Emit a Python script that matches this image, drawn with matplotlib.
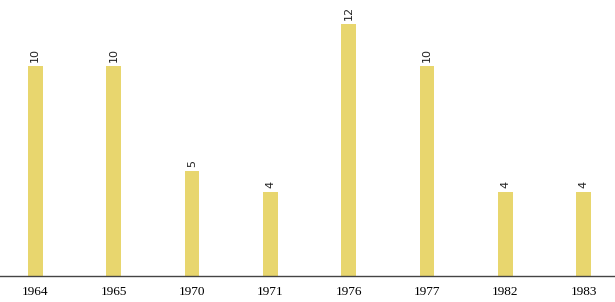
import matplotlib
matplotlib.use("Agg")
import matplotlib.pyplot as plt

categories = ["1964", "1965", "1970", "1971", "1976", "1977", "1982", "1983"]
values = [10, 10, 5, 4, 12, 10, 4, 4]

fig = plt.figure(figsize=(6.15, 3.02), dpi=100)
ax = fig.add_axes([0, 26/302, 1, 276/302])
x = list(range(len(categories)))
bars = ax.bar(x, values, width=0.19, color="#e8d66e")
for xi, v in zip(x, values):
    ax.annotate(str(v), (xi, v), xytext=(0, 3), textcoords="offset points",
                rotation=90, ha="center", va="bottom", fontsize=8,
                family="DejaVu Sans", color="#222222")
ax.set_xlim(-0.45, 7.4)
ax.set_ylim(0, 276/21)
ax.set_xticks(x)
ax.set_xticklabels(categories, family="Liberation Serif", fontsize=9.5)
ax.tick_params(axis="x", length=0, pad=7)
ax.set_yticks([])
for s in ["top", "right", "left"]:
    ax.spines[s].set_visible(False)
ax.spines["bottom"].set_color("#444444")
ax.spines["bottom"].set_linewidth(1)
fig.savefig("out.png", dpi=100)
